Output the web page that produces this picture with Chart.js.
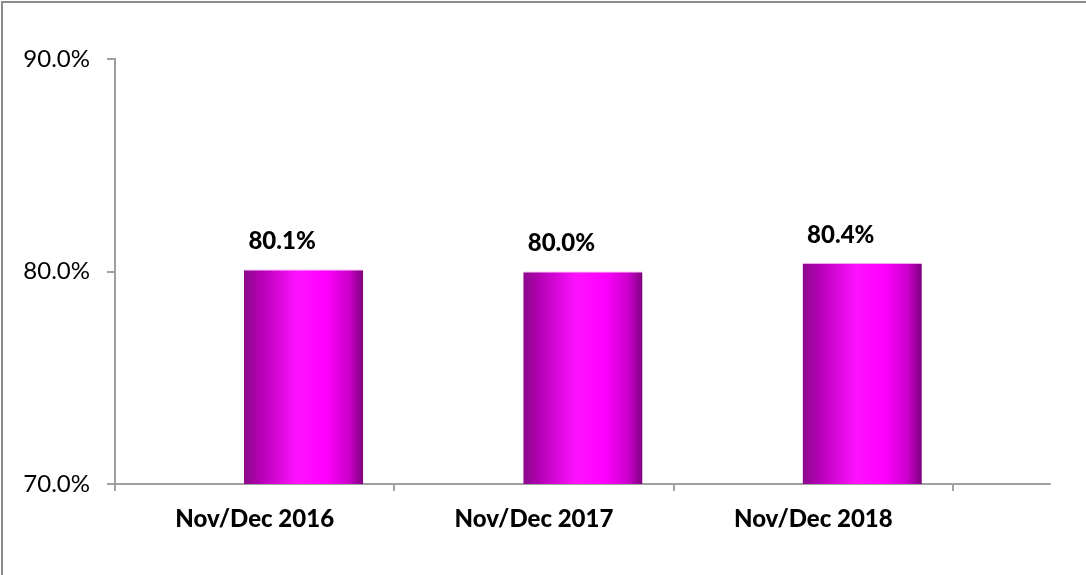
<!DOCTYPE html>
<html>
<head>
<meta charset="utf-8">
<script src="https://cdn.jsdelivr.net/npm/chart.js@4.4.1/dist/chart.umd.min.js"></script>
<style>
  html, body { margin: 0; padding: 0; background: #fff; overflow: hidden; }
  canvas { display: block; }
</style>
</head>
<body>
<canvas id="c" width="1086" height="575"></canvas>
<script>
const categories = ['Nov/Dec 2016', 'Nov/Dec 2017', 'Nov/Dec 2018'];
const values = [80.1, 80.0, 80.4];
const placeholder = [null, null, null];
const yTicks = [70, 80, 90];

const AXIS = '#a0a0a0';
const FONT = 'Lato, "Open Sans", sans-serif';

const gradientPlugin = {
  id: 'barGradient',
  afterDatasetsUpdate(chart) {
    const ctx = chart.ctx;
    const meta = chart.getDatasetMeta(1);
    meta.data.forEach(el => {
      const l = el.x - el.width / 2, r = el.x + el.width / 2;
      const g = ctx.createLinearGradient(l, 0, r, 0);
      g.addColorStop(0, '#8a0a8a');
      g.addColorStop(0.15, '#b800b8');
      g.addColorStop(0.45, '#ff12ff');
      g.addColorStop(0.68, '#ff00ff');
      g.addColorStop(0.88, '#cc00cc');
      g.addColorStop(1, '#7e007e');
      el.options = Object.assign({}, el.options, { backgroundColor: g });
    });
  }
};

const framePlugin = {
  id: 'frame',
  beforeDraw(chart) {
    const ctx = chart.ctx;
    ctx.save();
    ctx.fillStyle = '#fff';
    ctx.fillRect(0, 0, chart.width, chart.height);
    ctx.strokeStyle = '#8c8c8c';
    ctx.lineWidth = 2;
    ctx.beginPath();
    ctx.moveTo(2, chart.height);
    ctx.lineTo(2, 2);
    ctx.lineTo(chart.width, 2);
    ctx.stroke();
    ctx.restore();
  }
};

const extraPlugin = {
  id: 'extras',
  afterDatasetsDraw(chart) {
    const ctx = chart.ctx;
    const area = chart.chartArea;
    const catW = (area.right - area.left) / categories.length;
    ctx.save();
    ctx.strokeStyle = AXIS;
    ctx.lineWidth = 2;
    ctx.beginPath();
    ctx.moveTo(area.right, area.bottom);
    ctx.lineTo(area.right + catW * 0.35, area.bottom);
    ctx.stroke();
    const meta = chart.getDatasetMeta(1);
    ctx.fillStyle = '#000';
    ctx.font = '900 24px ' + FONT;
    ctx.textAlign = 'center';
    ctx.textBaseline = 'bottom';
    meta.data.forEach((el, i) => {
      ctx.fillText(values[i].toFixed(1) + '%', el.x - el.width * 0.18, el.y - 16);
    });
    ctx.restore();
  }
};

new Chart(document.getElementById('c'), {
  type: 'bar',
  data: {
    labels: categories,
    datasets: [
      { data: placeholder, backgroundColor: 'rgba(0,0,0,0)' },
      { data: values, backgroundColor: '#ff00ff', borderColor: '#f0a8f0',
        borderWidth: { top: 1, left: 0, right: 0, bottom: 0 }, borderSkipped: 'bottom' }
    ]
  },
  options: {
    responsive: false,
    animation: false,
    devicePixelRatio: 1,
    categoryPercentage: 0.70,
    barPercentage: 1.22,
    layout: { padding: { left: 0, top: 59, right: 133, bottom: 0 } },
    plugins: { legend: { display: false }, tooltip: { enabled: false } },
    scales: {
      x: {
        offset: true,
        grid: { offset: true, drawOnChartArea: false, drawTicks: true, tickLength: 7, color: AXIS, lineWidth: 2 },
        border: { color: AXIS, width: 2 },
        ticks: { color: '#000', font: { family: FONT, size: 24, weight: '900' }, padding: 14, maxRotation: 0 },
        afterFit(s) { s.height = 91; }
      },
      y: {
        min: 70, max: 90,
        afterBuildTicks(s) { s.ticks = yTicks.map(v => ({ value: v })); },
        grid: { drawOnChartArea: false, drawTicks: true, tickLength: 8, color: AXIS, lineWidth: 2 },
        border: { color: AXIS, width: 2 },
        ticks: { color: '#000', font: { family: FONT, size: 24 }, padding: 17,
                 callback: v => v.toFixed(1) + '%' },
        afterFit(s) { s.width = 115; }
      }
    }
  },
  plugins: [framePlugin, gradientPlugin, extraPlugin]
});
</script>
</body>
</html>
